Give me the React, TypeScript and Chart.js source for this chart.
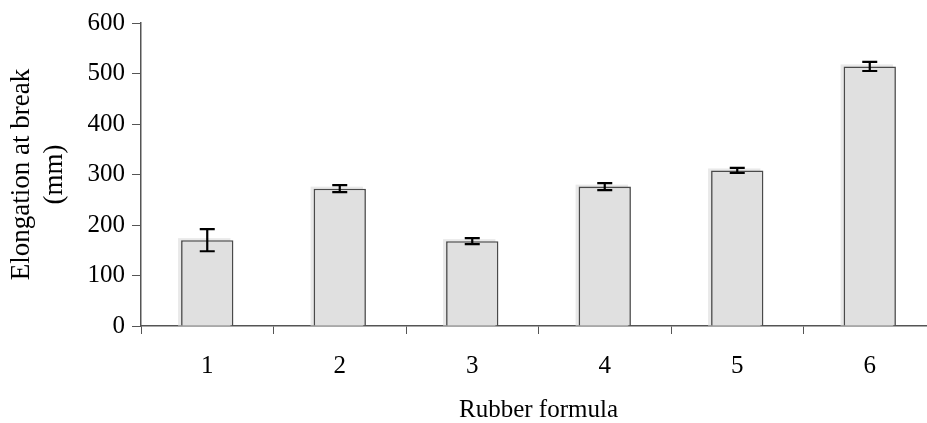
import React, { useEffect, useRef } from "react";
import { Chart, registerables } from "chart.js";

Chart.register(...registerables);

// Elongation at break for each rubber formula, with standard deviation
const formulas = ["1", "2", "3", "4", "5", "6"];
const elongation = [170, 272, 168, 276, 308, 514];
const elongationSd = [22, 7, 6, 7, 5, 9];
const yTicks = [0, 100, 200, 300, 400, 500, 600];

const FONT = "'Liberation Serif', 'Times New Roman', serif";

// Light offset shade behind every bar
const barShade = {
  id: "barShade",
  beforeDatasetsDraw(chart: any) {
    const ctx = chart.ctx;
    const meta = chart.getDatasetMeta(0);
    ctx.save();
    ctx.fillStyle = "#e9e9e9";
    meta.data.forEach((bar: any) => {
      const p = bar.getProps(["x", "y", "base", "width"], true);
      ctx.fillRect(p.x - p.width / 2 - 3, p.y - 2, p.width, p.base - p.y + 2);
    });
    ctx.restore();
  },
};

// Error bars (mean ± sd) with caps
const errorBars = {
  id: "errorBars",
  afterDatasetsDraw(chart: any) {
    const ctx = chart.ctx;
    const yScale = chart.scales.y;
    const meta = chart.getDatasetMeta(0);
    ctx.save();
    ctx.strokeStyle = "#000";
    ctx.lineWidth = 2.2;
    meta.data.forEach((bar: any, i: number) => {
      const x = bar.x;
      const top = yScale.getPixelForValue(elongation[i] + elongationSd[i]);
      const bottom = yScale.getPixelForValue(elongation[i] - elongationSd[i]);
      const cap = 7.5;
      ctx.beginPath();
      ctx.moveTo(x, top);
      ctx.lineTo(x, bottom);
      ctx.moveTo(x - cap, top);
      ctx.lineTo(x + cap, top);
      ctx.moveTo(x - cap, bottom);
      ctx.lineTo(x + cap, bottom);
      ctx.stroke();
    });
    ctx.restore();
  },
};

export default function App() {
  const canvasRef = useRef<HTMLCanvasElement | null>(null);

  useEffect(() => {
    if (!canvasRef.current) return;
    const chart = new Chart(canvasRef.current, {
      type: "bar",
      data: {
        labels: formulas,
        datasets: [
          {
            data: elongation,
            backgroundColor: "#e0e0e0",
            borderColor: "#4a4a4a",
            borderWidth: 1.6,
            barPercentage: 0.395,
            categoryPercentage: 1,
          },
        ],
      },
      options: {
        responsive: false,
        animation: false,
        layout: { padding: { top: 23, right: 4, left: 0, bottom: 0 } },
        plugins: {
          legend: { display: false },
          tooltip: { enabled: false },
        },
        scales: {
          x: {
            offset: true,
            grid: {
              offset: true,
              drawOnChartArea: false,
              drawTicks: true,
              tickLength: 8,
              color: "#555",
            },
            border: { color: "#555", width: 1.5 },
            ticks: {
              color: "#000",
              font: { family: FONT, size: 25 },
              padding: 17,
              maxRotation: 0,
            },
            title: {
              display: true,
              text: "Rubber formula",
              color: "#000",
              font: { family: FONT, size: 25, lineHeight: 1.0 },
              padding: { top: 6, bottom: 0 },
            },
            afterFit(scale: any) {
              scale.height = 97;
            },
          },
          y: {
            min: 0,
            max: 600,
            afterBuildTicks(scale: any) {
              scale.ticks = yTicks.map((v) => ({ value: v }));
            },
            grid: {
              drawOnChartArea: false,
              drawTicks: true,
              tickLength: 9,
              color: "#555",
            },
            border: { color: "#555", width: 1.5 },
            ticks: {
              color: "#000",
              font: { family: FONT, size: 25 },
              padding: 7,
            },
            title: {
              display: true,
              text: ["Elongation at break", "(mm)"],
              color: "#000",
              font: { family: FONT, size: 27, lineHeight: 1.2 },
              padding: { top: 6, bottom: 0 },
            },
            afterFit(scale: any) {
              scale.width = 141;
            },
          },
        },
      },
      plugins: [barShade, errorBars],
    });
    return () => chart.destroy();
  }, []);

  return (
    <div
      style={{
        position: "fixed",
        left: 0,
        top: 0,
        width: 927,
        height: 423,
        overflow: "hidden",
        background: "#fff",
      }}
    >
      <canvas
        ref={canvasRef}
        width={940}
        height={423}
        style={{ display: "block" }}
      />
    </div>
  );
}
